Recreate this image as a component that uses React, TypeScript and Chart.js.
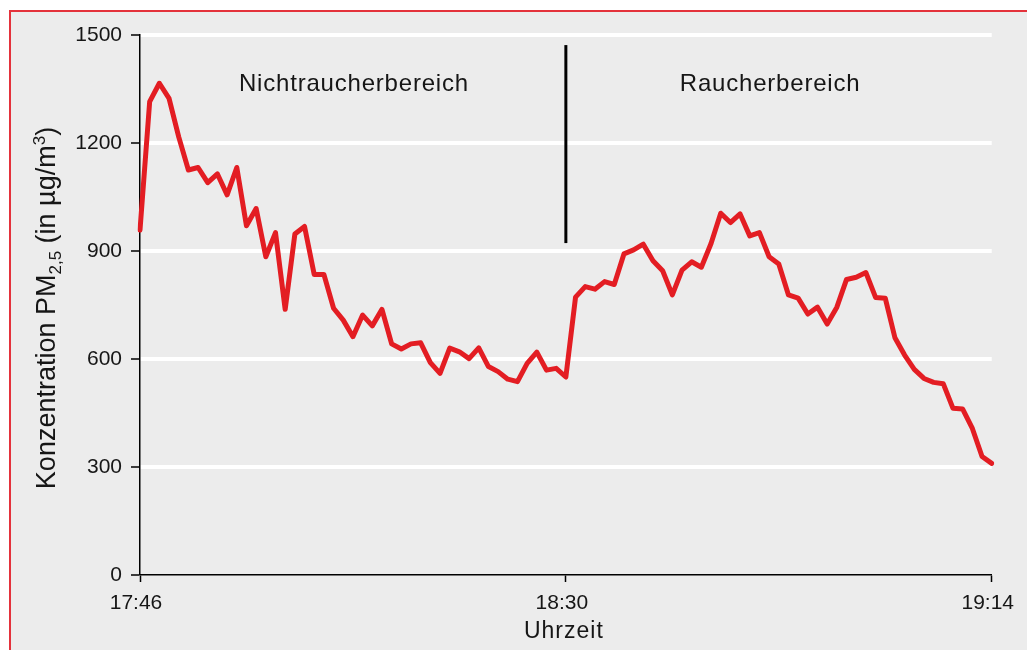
import React, { useEffect, useRef } from "react";
import { Chart, registerables } from "chart.js";

Chart.register(...registerables);

// ---- data ----
const TIME_LABELS: string[] = [
  "17:46", "17:47", "17:48", "17:49", "17:50", "17:51", "17:52", "17:53", "17:54", "17:55",
  "17:56", "17:57", "17:58", "17:59",
  "18:00", "18:01", "18:02", "18:03", "18:04", "18:05", "18:06", "18:07", "18:08", "18:09",
  "18:10", "18:11", "18:12", "18:13", "18:14", "18:15", "18:16", "18:17", "18:18", "18:19",
  "18:20", "18:21", "18:22", "18:23", "18:24", "18:25", "18:26", "18:27", "18:28", "18:29",
  "18:30", "18:31", "18:32", "18:33", "18:34", "18:35", "18:36", "18:37", "18:38", "18:39",
  "18:40", "18:41", "18:42", "18:43", "18:44", "18:45", "18:46", "18:47", "18:48", "18:49",
  "18:50", "18:51", "18:52", "18:53", "18:54", "18:55", "18:56", "18:57", "18:58", "18:59",
  "19:00", "19:01", "19:02", "19:03", "19:04", "19:05", "19:06", "19:07", "19:08", "19:09",
  "19:10", "19:11", "19:12", "19:13", "19:14",
];

const PM25_VALUES: number[] = [
  958, 1315, 1366, 1324, 1217, 1125, 1132, 1090, 1114, 1056,
  1132, 970, 1018, 884, 951, 738, 947, 968, 835, 835,
  741, 708, 662, 722, 692, 738, 642, 628, 642, 645,
  590, 560, 630, 620, 601, 631, 579, 565, 544, 537,
  588, 619, 569, 574, 550, 772, 801, 794, 815, 807,
  892, 903, 919, 873, 845, 778, 847, 870, 855, 921,
  1005, 979, 1003, 942, 951, 884, 864, 778, 769, 725,
  744, 697, 744, 821, 827, 840, 771, 769, 659, 611,
  571, 546, 535, 531, 463, 461, 407, 329, 310,
];

const SHOWN_TIME_TICKS: string[] = ["17:46", "18:30", "19:14"];
const Y_MIN = 0;
const Y_MAX = 1500;
const Y_STEP = 300;

const DIVIDER_TIME = "18:30";
const DIVIDER_RANGE: number[] = [922, 1472];

const ZONE_LABELS: string[] = ["Nichtraucherbereich", "Raucherbereich"];
const ZONE_LABEL_TIMES: string[] = ["18:08", "18:51"];
const ZONE_LABEL_LEVEL = 1365;

const X_TITLE = "Uhrzeit";
// y title pieces: [text, kind] kind: n = normal, sub = subscript, sup = superscript
const Y_TITLE_PARTS: [string, string][] = [
  ["Konzentration PM", "n"],
  ["2,5", "sub"],
  [" (in µg/m", "n"],
  ["3", "sup"],
  [")", "n"],
];

const FONT = '"Liberation Sans", Arial, Helvetica, sans-serif';
const TEXT_COLOR = "#161616";
const LINE_COLOR = "#e31d23";

const setSpacing = (ctx: any, v: string) => {
  try {
    ctx.letterSpacing = v;
  } catch (e) {}
};

const overlayPlugin = {
  id: "overlay",
  afterDatasetsDraw(chart: any) {
    const { ctx } = chart;
    const x = chart.scales.x;
    const y = chart.scales.y;
    ctx.save();

    // divider line
    const dx = x.getPixelForValue(TIME_LABELS.indexOf(DIVIDER_TIME));
    ctx.strokeStyle = "#000";
    ctx.lineWidth = 3;
    ctx.beginPath();
    ctx.moveTo(dx, y.getPixelForValue(DIVIDER_RANGE[1]));
    ctx.lineTo(dx, y.getPixelForValue(DIVIDER_RANGE[0]));
    ctx.stroke();

    // zone labels
    ctx.fillStyle = TEXT_COLOR;
    ctx.font = `24px ${FONT}`;
    ctx.textAlign = "center";
    ctx.textBaseline = "middle";
    setSpacing(ctx, "0.8px");
    ZONE_LABELS.forEach((t, i) => {
      const px = x.getPixelForValue(TIME_LABELS.indexOf(ZONE_LABEL_TIMES[i]));
      ctx.fillText(t, px + 1, y.getPixelForValue(ZONE_LABEL_LEVEL) + 1);
    });

    // x title
    setSpacing(ctx, "1px");
    ctx.font = `23px ${FONT}`;
    ctx.fillText(X_TITLE, (x.left + x.right) / 2 - 2, 632);
    setSpacing(ctx, "0px");

    // y title (rotated, with sub/superscript)
    const big = `27px ${FONT}`;
    const small = `17px ${FONT}`;
    let total = 0;
    const widths = Y_TITLE_PARTS.map(([t, k]) => {
      ctx.font = k === "n" ? big : small;
      const w = ctx.measureText(t).width;
      total += w;
      return w;
    });
    ctx.translate(55, (y.top + y.bottom) / 2 + 3);
    ctx.rotate(-Math.PI / 2);
    ctx.textAlign = "left";
    ctx.textBaseline = "alphabetic";
    let cx = -total / 2;
    Y_TITLE_PARTS.forEach(([t, k], i) => {
      ctx.font = k === "n" ? big : small;
      const off = k === "sub" ? 6 : k === "sup" ? -10 : 0;
      ctx.fillText(t, cx, off);
      cx += widths[i];
    });

    ctx.restore();
    // x tick labels (drawn after datasets, z = 1) sit slightly left of their ticks
    ctx.save();
    ctx.translate(-4, 0);
  },
  afterDraw(chart: any) {
    chart.ctx.restore();
  },
};

export default function App() {
  const ref = useRef<HTMLCanvasElement | null>(null);

  useEffect(() => {
    if (!ref.current) return;
    const chart = new Chart(ref.current, {
      type: "line",
      data: {
        labels: TIME_LABELS,
        datasets: [
          {
            data: PM25_VALUES,
            borderColor: LINE_COLOR,
            borderWidth: 5,
            pointRadius: 0,
            tension: 0,
            borderJoinStyle: "round",
            borderCapStyle: "round",
            fill: false,
          },
        ],
      },
      options: {
        animation: false,
        responsive: false,
        maintainAspectRatio: false,
        layout: { padding: { left: 0, right: 32, top: 35, bottom: 0 } },
        plugins: {
          legend: { display: false },
          tooltip: { enabled: false },
        },
        scales: {
          x: {
            type: "category",
            offset: false,
            afterFit: (s: any) => {
              s.height = 75;
            },
            afterBuildTicks: (s: any) => {
              s.ticks = s.ticks.filter((t: any) => SHOWN_TIME_TICKS.includes(TIME_LABELS[t.value]));
            },
            ticks: {
              autoSkip: false,
              maxRotation: 0,
              font: { family: FONT, size: 21 },
              color: TEXT_COLOR,
              padding: 9,
              z: 1,
            },
            grid: {
              drawOnChartArea: false,
              drawTicks: true,
              tickLength: 7,
              tickColor: "#000",
              tickWidth: 1.5,
            },
            border: { color: "#000", width: 1.5 },
          },
          y: {
            min: Y_MIN,
            max: Y_MAX,
            afterFit: (s: any) => {
              s.width = 140;
            },
            ticks: {
              stepSize: Y_STEP,
              font: { family: FONT, size: 21 },
              color: TEXT_COLOR,
              padding: 9,
              callback: (v: any) => String(v),
            },
            grid: {
              color: "#ffffff",
              lineWidth: (c: any) => (c.tick && c.tick.value === 0 ? 0 : 4),
              drawTicks: true,
              tickLength: 9,
              tickColor: "#000",
              tickWidth: 1.5,
            },
            border: { color: "#000", width: 1.5 },
          },
        },
      },
      plugins: [overlayPlugin],
    });
    return () => chart.destroy();
  }, []);

  return (
    <div
      style={{
        position: "fixed",
        left: 0,
        top: 0,
        width: 1027,
        height: 650,
        background: "#ffffff",
        overflow: "hidden",
      }}
    >
      <div
        style={{
          position: "absolute",
          left: 9,
          top: 10,
          width: 1100,
          height: 720,
          border: "2px solid #e4323b",
          background: "#ececec",
        }}
      />
      <canvas
        ref={ref}
        width={1027}
        height={650}
        style={{ position: "absolute", left: 0, top: 0, width: 1027, height: 650 }}
      />
    </div>
  );
}
